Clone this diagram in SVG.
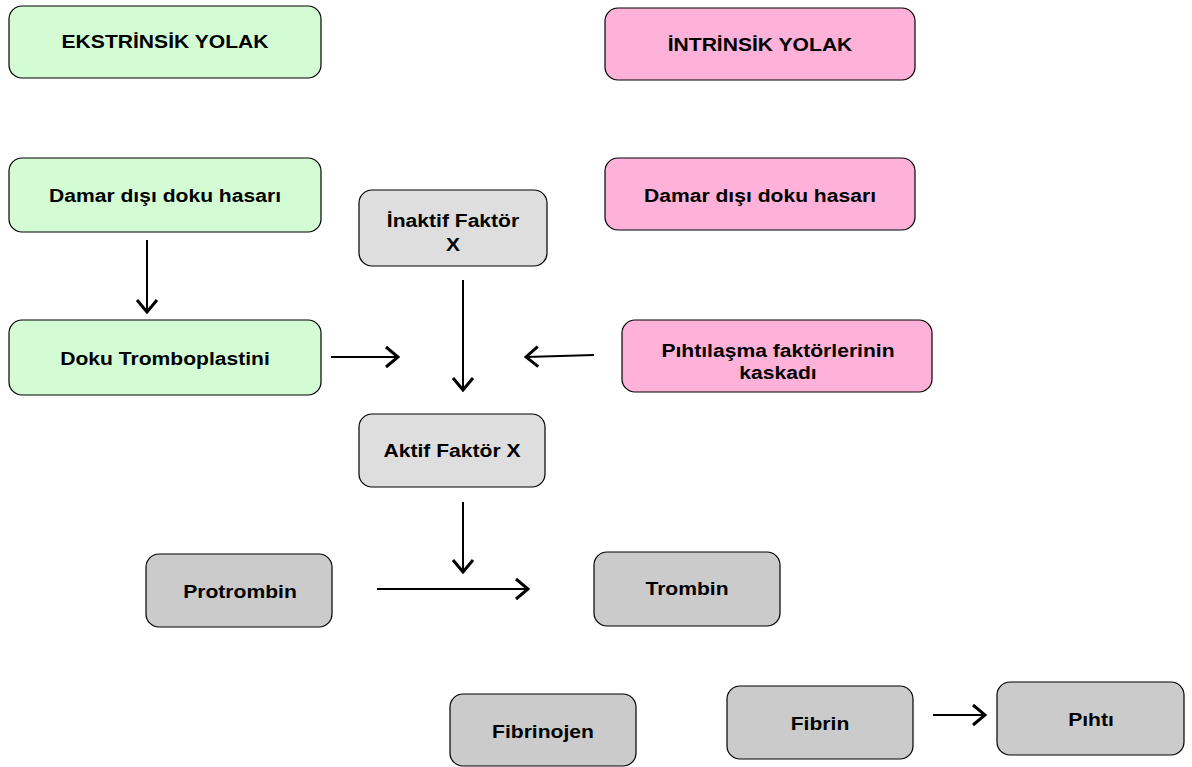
<svg xmlns="http://www.w3.org/2000/svg" width="1192" height="767" viewBox="0 0 1192 767">
<style>
.box{stroke:#000;stroke-width:1.2}
.g{fill:#d4fcd4}
.p{fill:#ffb2d9}
.l{fill:#dedede}
.d{fill:#cbcbcb}
text{font-family:"Liberation Sans",Arial,sans-serif;font-weight:bold;font-size:18.5px;fill:#000;text-anchor:middle}
.c line{stroke:#000;stroke-width:2}
</style>
<defs>
<marker id="ah" markerUnits="userSpaceOnUse" markerWidth="16" markerHeight="24" viewBox="0 0 16 24" refX="14" refY="12" orient="auto">
<path d="M2,2 L14,12 L2,22" fill="none" stroke="#000" stroke-width="3"/>
</marker>
</defs>
<rect width="1192" height="767" fill="#fff"/>
<g id="n1"><rect class="box g" x="9" y="6" width="312" height="72" rx="13"/><text transform="translate(165,48) scale(1.14,1)">EKSTRİNSİK YOLAK</text></g>
<g id="n2"><rect class="box p" x="605" y="8" width="310" height="72" rx="13"/><text transform="translate(760,51) scale(1.14,1)">İNTRİNSİK YOLAK</text></g>
<g id="n3"><rect class="box g" x="9" y="158" width="312" height="74" rx="13"/><text transform="translate(165,202) scale(1.14,1)">Damar dışı doku hasarı</text></g>
<g id="n4"><rect class="box p" x="605" y="158" width="310" height="72" rx="13"/><text transform="translate(760,202) scale(1.14,1)">Damar dışı doku hasarı</text></g>
<g id="n5"><rect class="box l" x="359" y="190" width="188" height="76" rx="13"/><text transform="translate(453,227) scale(1.14,1)">İnaktif Faktör</text><text transform="translate(453,251) scale(1.14,1)">X</text></g>
<g id="n6"><rect class="box g" x="9" y="320" width="312" height="75" rx="13"/><text transform="translate(165,365) scale(1.14,1)">Doku Tromboplastini</text></g>
<g id="n7"><rect class="box p" x="622" y="320" width="310" height="72" rx="13"/><text transform="translate(778,357) scale(1.14,1)">Pıhtılaşma faktörlerinin</text><text transform="translate(778,379) scale(1.14,1)">kaskadı</text></g>
<g id="n8"><rect class="box l" x="359" y="414" width="186" height="73" rx="13"/><text transform="translate(452,457) scale(1.14,1)">Aktif Faktör X</text></g>
<g id="n9"><rect class="box d" x="146" y="554" width="186" height="73" rx="13"/><text transform="translate(240,598) scale(1.14,1)">Protrombin</text></g>
<g id="n10"><rect class="box d" x="594" y="552" width="186" height="74" rx="13"/><text transform="translate(687,595) scale(1.14,1)">Trombin</text></g>
<g id="n11"><rect class="box d" x="450" y="694" width="186" height="72" rx="13"/><text transform="translate(543,738) scale(1.14,1)">Fibrinojen</text></g>
<g id="n12"><rect class="box d" x="727" y="686" width="186" height="73" rx="13"/><text transform="translate(820,730) scale(1.14,1)">Fibrin</text></g>
<g id="n13"><rect class="box d" x="997" y="682" width="187" height="73" rx="13"/><text transform="translate(1091,726) scale(1.14,1)">Pıhtı</text></g>
<g id="connectors" class="c">
<line x1="147" y1="240" x2="147" y2="312" marker-end="url(#ah)"/>
<line x1="331" y1="357" x2="398" y2="357" marker-end="url(#ah)"/>
<line x1="463" y1="280" x2="463" y2="390" marker-end="url(#ah)"/>
<line x1="594" y1="355" x2="526" y2="357" marker-end="url(#ah)"/>
<line x1="463" y1="502" x2="463" y2="572" marker-end="url(#ah)"/>
<line x1="377" y1="589" x2="528" y2="589" marker-end="url(#ah)"/>
<line x1="933" y1="715" x2="985" y2="715" marker-end="url(#ah)"/>
</g>
</svg>
